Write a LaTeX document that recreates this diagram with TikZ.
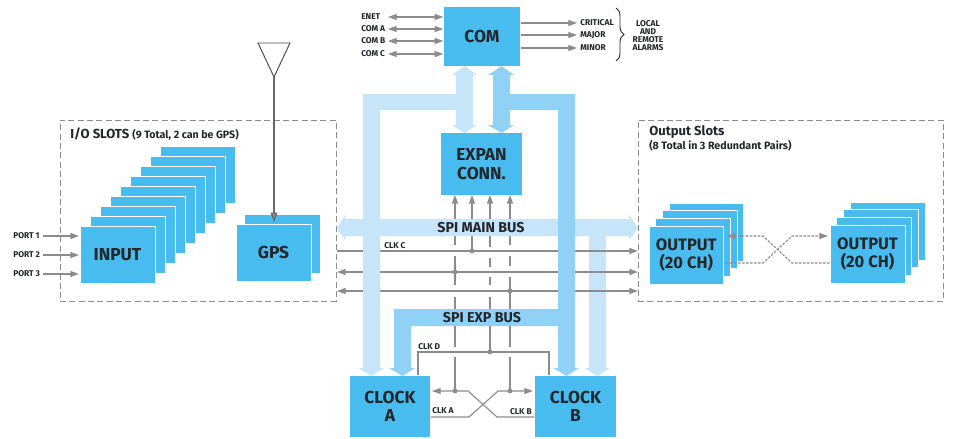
\documentclass[tikz,border=0pt]{standalone}
\usepackage{fontspec}
\setmainfont{Fira Sans}
\usetikzlibrary{arrows.meta,decorations.pathreplacing}
\definecolor{cardblue}{HTML}{48BCEE}
\definecolor{buslight}{HTML}{C7E5F8}
\definecolor{busdark}{HTML}{90D1F5}
\definecolor{wiregray}{HTML}{8C8C8E}
\definecolor{inkdark}{HTML}{23262B}
\tikzset{
  cardbox/.style={fill=cardblue,draw=white,line width=0.5pt,inner sep=0pt,align=center,
     text=inkdark,font=\fontsize{13}{13}\selectfont\bfseries},
  wire/.style={draw=wiregray,line width=0.85pt},
  arr/.style={wire,-{Triangle[length=6.5pt,width=4.5pt]}},
  biarr/.style={wire,{Triangle[length=6.5pt,width=4.5pt]}-{Triangle[length=6.5pt,width=4.5pt]}},
  dashwire/.style={draw=wiregray,line width=0.8pt,dash pattern=on 2pt off 1pt},
  slotframe/.style={draw=wiregray,line width=0.7pt,dash pattern=on 4.5pt off 2.5pt},
  tiny/.style={inner sep=0pt,text=inkdark,font=\fontsize{6.3}{6}\selectfont\bfseries},
  title/.style={inner sep=0pt,anchor=west,text=inkdark,font=\fontsize{9.8}{11}\selectfont\bfseries},
  subtitle/.style={inner sep=0pt,anchor=west,text=inkdark,font=\fontsize{8}{9}\selectfont\bfseries},
  buslabel/.style={inner sep=0pt,text=inkdark,font=\fontsize{10.7}{11}\selectfont\bfseries},
  dot/.style={circle,fill=wiregray,inner sep=0pt,minimum size=3.6pt},
}
\newcommand{\cardat}[6]{\node[cardbox,minimum width={((#4)-(#2))*0.75pt},minimum height={((#5)-(#3))*0.75pt}]
  (#1) at ({((#2)+(#4))/2},{((#3)+(#5))/2}) {#6};}
\begin{document}
\begin{tikzpicture}[x=0.75pt,y=-0.75pt]
\useasboundingbox (0,0) rectangle (953,439);
\fill[white] (0,0) rectangle (953,439);
% frames
\node[slotframe,minimum width={276*0.75pt},minimum height={181*0.75pt},inner sep=0pt] (ioframe) at (198,210.5) {};
\node[slotframe,minimum width={305*0.75pt},minimum height={181*0.75pt},inner sep=0pt] (outframe) at (790.5,210.5) {};
\node[title] (iot) at (70,134) {I/O SLOTS \fontsize{8}{9}\selectfont(9 Total, 2 can be GPS)};
\node[title] (outt) at (649,132) {Output Slots};
\node[subtitle] (outs) at (649,146) {(8 Total in 3 Redundant Pairs)};
% input stack
\foreach \i in {8,...,1}{
  \cardat{in\i}{80+10*\i}{226-10*\i}{155+10*\i}{283-10*\i}{}
}
\cardat{input}{80}{226}{155}{283}{INPUT}
\cardat{gpsb}{244}{214}{320}{273}{}
\cardat{gps}{236}{224}{311}{281}{GPS}
% outputs
\foreach \i in {3,2,1}{
  \cardat{ol\i}{649+6.7*\i}{226-7.7*\i}{723.5+6.7*\i}{284-7.7*\i}{}
  \cardat{or\i}{830+6.7*\i}{225-7.7*\i}{905+6.7*\i}{283-7.7*\i}{}
}
\cardat{outl}{649}{226}{723.5}{284}{\fontsize{12.4}{13}\selectfont OUTPUT\\[1pt]\fontsize{12.4}{13}\selectfont (20 CH)}
\cardat{outr}{830}{225}{905}{283}{\fontsize{12.4}{13}\selectfont OUTPUT\\[1pt]\fontsize{12.4}{13}\selectfont (20 CH)}
% main blocks
\cardat{com}{443.7}{6.7}{520.3}{66.3}{COM}
\cardat{expan}{440.7}{132.7}{522.3}{195.3}{EXPAN\\[1pt]CONN.}
\cardat{clka}{349.7}{375.7}{430.3}{437.3}{CLOCK\\[0pt]A}
\cardat{clkb}{534.7}{375.7}{616.3}{437.3}{CLOCK\\[0pt]B}
% COM left
\foreach \n/\t/\y in {e/ENET/17,a/COM A/29,b/COM B/41,c/COM C/54}{
  \node[tiny,anchor=west] (l\n) at (361,\y) {\t};
  \coordinate (s\n) at (388,\y);
  \draw[biarr] (s\n) -- (s\n -| com.west);
}
% COM right
\foreach \n/\t/\y in {cr/CRITICAL/23,ma/MAJOR/35,mi/MINOR/48}{
  \node[tiny,anchor=west] (l\n) at (580,\y) {\t};
  \coordinate (s\n) at (577,\y);
  \draw[arr] (s\n -| com.east) -- (s\n);
}
\coordinate (brt) at (616,8); \coordinate (brb) at (616,61);
\draw[line width=0.7pt,draw=inkdark,decorate,decoration={brace,amplitude=6pt,aspect=0.5}] (brt) -- (brb);
\node[tiny,align=center] (alarms) at (648,36) {LOCAL\\AND\\REMOTE\\ALARMS};
% antenna
\coordinate (antl) at (258,43); \coordinate (antr) at (290,43); \coordinate (antb) at (274,77);
\draw[draw=inkdark!85,line width=0.7pt] (antl) -- (antr) -- (antb) -- cycle;
\coordinate (gpsin) at (274,222);
\draw[draw=inkdark!70,line width=0.8pt,-{Triangle[length=7pt,width=5pt,fill=wiregray]}] (antb) -- (gpsin);
% ports
\foreach \n/\y in {1/236,2/255,3/274}{
  \node[tiny,anchor=west] (p\n) at (13,\y) {PORT \n};
  \coordinate (ps\n) at (43,\y);
  \coordinate (pe\n) at (79,\y);
  \draw[arr] (ps\n) -- (pe\n);
}
% right light stem
\fill[buslight] (589,236) -- (606,236) -- (606,368) -- (610,368) -- (597.5,376) -- (584,368) -- (589,368) -- cycle;
% horizontal wires
\coordinate (cL) at (337,251); \coordinate (cR) at (638,251);
\coordinate (dL) at (337,272); \coordinate (dR) at (638,272);
\coordinate (eL) at (337,291); \coordinate (eR) at (638,291);
\draw[arr] (cL) -- (cR);
\draw[biarr] (dL) -- (dR);
\draw[biarr] (eL) -- (eR);
% vertical wires
\draw[arr] (455,245) -- (455,195);
\draw[wire] (455,256) -- (455,285) (455,297) -- (455,347) (455,357) -- (455,391);
\draw[arr] (472,251) -- (472,195);
\draw[arr] (490,247) -- (490,195);
\draw[wire] (490,258) -- (490,267) (490,277) -- (490,285) (490,297) -- (490,352);
\draw[arr] (510,245) -- (510,195);
\draw[wire] (510,256) -- (510,266) (510,277) -- (510,347) (510,357) -- (510,391);
\node[dot] (d1) at (472,251) {};
\node[dot] (d2) at (455,272) {};
\node[dot] (d3) at (510,291) {};
\node[dot] (d4) at (490,352) {};
\node[dot] (d5) at (455,391) {};
\node[dot] (d6) at (510,391) {};
% CLK D
\draw[wire] (clka.north -| 418,0) |- (d4.center) -| (clkb.north -| 549,0);
% crossover
\coordinate (xla) at (468,391); \coordinate (xlb) at (497,417);
\coordinate (xra) at (469,417); \coordinate (xrb) at (498,391);
\draw[wire,-{Triangle[length=6.5pt,width=4.5pt]}] (xlb -| clkb.west) -- (xlb) -- (xla) -- (xla -| 432,0);
\draw[wire,-{Triangle[length=6.5pt,width=4.5pt]}] (xra -| clka.east) -- (xra) -- (xrb) -- (xrb -| 533,0);
% buses
\fill[buslight] (337,228) -- (345,215) -- (345,219) -- (629,219) -- (629,215) -- (638,228) -- (629,240) -- (629,236) -- (345,236) -- (345,240) -- cycle;
\fill[buslight] (464.5,66) -- (477,75) -- (473,75) -- (473,125) -- (477,125) -- (464.5,133) -- (452,125) -- (456,125) -- (456,110)
   -- (380,110) -- (380,368) -- (384,368) -- (371.5,376) -- (358,368) -- (363,368) -- (363,94) -- (456,94) -- (456,75) -- (452,75) -- cycle;
\fill[busdark] (501.5,66) -- (514,75) -- (510,75) -- (510,94) -- (575,94) -- (575,368) -- (579,368) -- (566.5,376) -- (553,368) -- (558,368)
   -- (558,326) -- (411,326) -- (411,368) -- (415,368) -- (402.5,376) -- (389,368) -- (394,368) -- (394,309) -- (558,309) -- (558,110) -- (510,110) -- (510,125) -- (514,125) -- (501.5,133) -- (488,125) -- (493,125) -- (493,75) -- (488,75) -- cycle;
\node[buslabel] (mainl) at (481,228) {SPI MAIN BUS};
\node[buslabel] (expl) at (482,318) {SPI EXP BUS};
% dashed redundancy
\coordinate (o1) at (763,236); \coordinate (o2) at (792,263);
\coordinate (o3) at (763,263); \coordinate (o4) at (792,236);
\draw[dashwire,-{Triangle[length=6.5pt,width=4.5pt]}] (o2 -| outr.west) -- (o2) -- (o1) -- (o1 -| 727,0);
\draw[dashwire,-{Triangle[length=6.5pt,width=4.5pt]}] (o3 -| 726,0) -- (o3) -- (o4) -- (o4 -| 828,0);
% clk labels
\node[tiny,anchor=west] (lc) at (384,246) {CLK C};
\node[tiny,anchor=west] (ld) at (418,347) {CLK D};
\node[tiny,anchor=west] (la) at (432,411) {CLK A};
\node[tiny,anchor=east] (lb) at (532,412) {CLK B};
\end{tikzpicture}
\end{document}
